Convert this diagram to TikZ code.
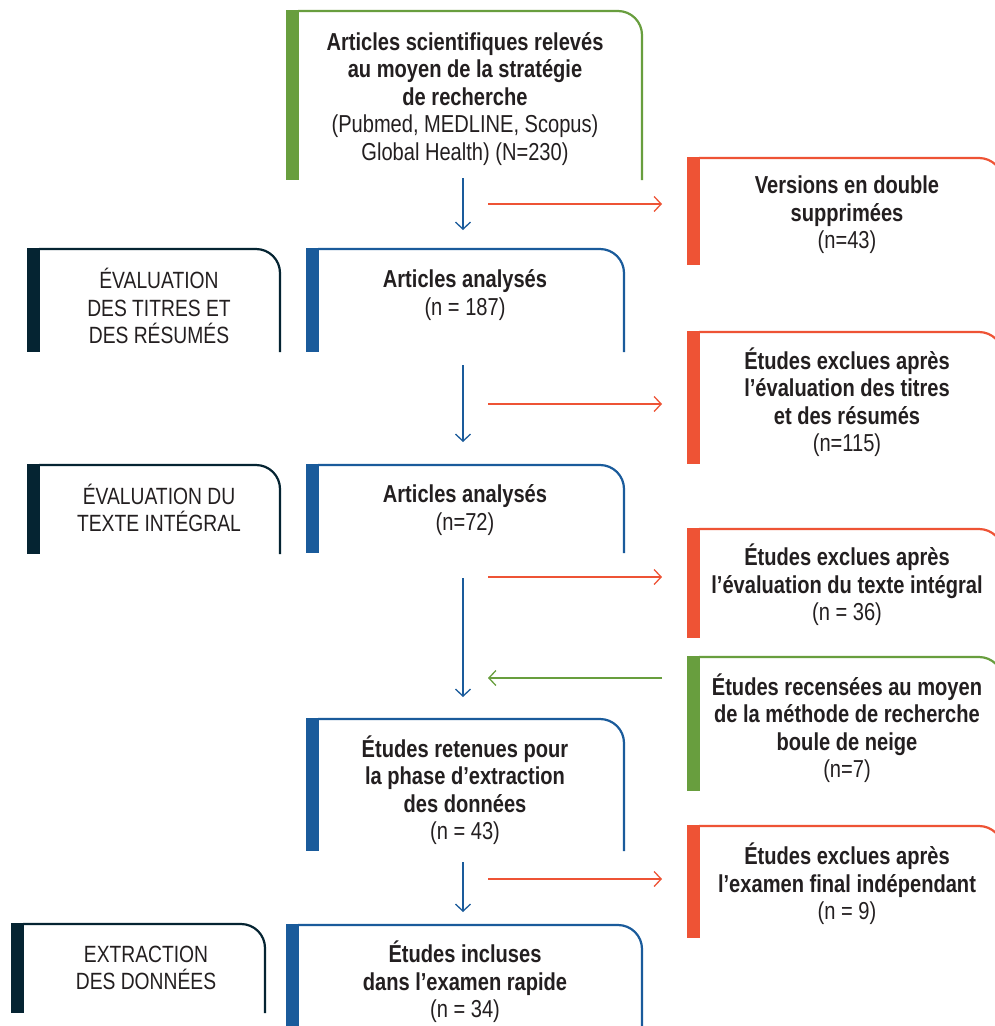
\documentclass[tikz,border=0pt]{standalone}
\usepackage{fontspec}
\setmainfont{Liberation Sans}[FakeStretch=0.82]
\usetikzlibrary{arrows.meta}
\definecolor{cgreen}{RGB}{104,158,62}
\definecolor{cred}{RGB}{238,83,53}
\definecolor{cblue}{RGB}{26,91,155}
\definecolor{cdark}{RGB}{5,36,50}
\definecolor{ctext}{RGB}{35,31,32}
\newcommand\frm[5]{%
  \fill[#5] (#1,#2) rectangle ({#1+12.5},#4);
  \draw[#5, line width=2.2pt, rounded corners=24pt] ({#1+12},{#2+1}) -- (#3,{#2+1}) -- (#3,#4);
}
\tikzset{
  txt/.style={align=center, text=ctext, font=\fontsize{24.5}{27.5}\selectfont, inner sep=0pt},
  lab/.style={align=center, text=ctext, font=\fontsize{23.5}{27.5}\selectfont, inner sep=0pt},
  arr/.style={line width=1.3pt, -{Straight Barb[length=7pt,width=15pt,line width=1.3pt]}},
}
\begin{document}
\begin{tikzpicture}[x=1pt,y=-1pt]
\useasboundingbox (0,0) rectangle (995,1026);
\clip (0,0) rectangle (995,1026);
\fill[white] (0,0) rectangle (995,1026);
% frames
\frm{286}{10}{642}{180}{cgreen}
\frm{687}{157}{1003}{265}{cred}
\frm{27}{248}{280}{352}{cdark}
\frm{306}{248}{624}{352}{cblue}
\frm{687}{331}{1003}{464}{cred}
\frm{27}{464}{280}{554}{cdark}
\frm{306}{464}{624}{553}{cblue}
\frm{687}{528}{1003}{638}{cred}
\frm{687}{656}{1003}{791}{cgreen}
\frm{306}{718}{624}{851}{cblue}
\frm{687}{825}{1003}{938}{cred}
\frm{11}{923}{265}{1013}{cdark}
\frm{286}{924}{642}{1030}{cblue}
% texts
\node[txt] (n1) at (465,99) {\textbf{Articles scientifiques relevés}\\\textbf{au moyen de la stratégie}\\\textbf{de recherche}\\(Pubmed, MEDLINE, Scopus)\\Global Health) (N=230)};
\node[txt] (n2) at (847,215) {\textbf{Versions en double}\\\textbf{supprimées}\\(n=43)};
\node[lab] (l1) at (159,306) {ÉVALUATION\\DES TITRES ET\\DES RÉSUMÉS};
\node[txt] (n3) at (465,295) {\textbf{Articles analysés}\\(n = 187)};
\node[txt] (n4) at (847,402) {\textbf{Études exclues après}\\\textbf{l’évaluation des titres}\\\textbf{et des résumés}\\(n=115)};
\node[lab] (l2) at (159,508) {ÉVALUATION DU\\TEXTE INTÉGRAL};
\node[txt] (n5) at (465,510) {\textbf{Articles analysés}\\(n=72)};
\node[txt] (n6) at (847,585) {\textbf{Études exclues après}\\\textbf{l’évaluation du texte intégral}\\(n = 36)};
\node[txt] (n7) at (847,728) {\textbf{Études recensées au moyen}\\\textbf{de la méthode de recherche}\\\textbf{boule de neige}\\(n=7)};
\node[txt] (n8) at (465,790) {\textbf{Études retenues pour}\\\textbf{la phase d’extraction}\\\textbf{des données}\\(n = 43)};
\node[txt] (n9) at (847,884) {\textbf{Études exclues après}\\\textbf{l’examen final indépendant}\\(n = 9)};
\node[lab] (l3) at (146,968) {EXTRACTION\\DES DONNÉES};
\node[txt] (n10) at (465,982) {\textbf{Études incluses}\\\textbf{dans l’examen rapide}\\(n = 34)};
% arrow endpoints
\coordinate (a1s) at (463,178); \coordinate (a1e) at (463,230);
\coordinate (r1s) at (488,204); \coordinate (r1e) at (662,204);
\coordinate (a2s) at (463,365); \coordinate (a2e) at (463,442);
\coordinate (r2s) at (488,404); \coordinate (r2e) at (662,404);
\coordinate (a3s) at (463,578); \coordinate (a3e) at (463,697);
\coordinate (r3s) at (488,577); \coordinate (r3e) at (662,577);
\coordinate (g1s) at (662,678); \coordinate (g1e) at (488,678);
\coordinate (a4s) at (463,862); \coordinate (a4e) at (463,912);
\coordinate (r4s) at (488,879); \coordinate (r4e) at (662,879);
\draw[arr, cblue] (a1s) -- (a1e);
\draw[arr, cred] (r1s) -- (r1e);
\draw[arr, cblue] (a2s) -- (a2e);
\draw[arr, cred] (r2s) -- (r2e);
\draw[arr, cblue] (a3s) -- (a3e);
\draw[arr, cred] (r3s) -- (r3e);
\draw[arr, cgreen] (g1s) -- (g1e);
\draw[arr, cblue] (a4s) -- (a4e);
\draw[arr, cred] (r4s) -- (r4e);
\end{tikzpicture}
\end{document}
